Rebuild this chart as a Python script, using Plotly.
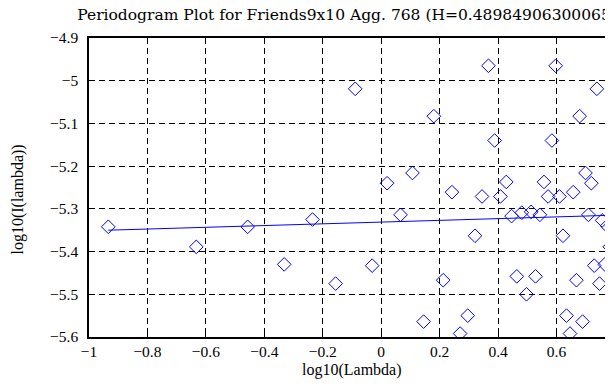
import plotly.graph_objects as go

# Periodogram points: log10(lambda) and log10(I(lambda))
log_lambda = [
    -0.934, -0.633, -0.457, -0.332, -0.235, -0.156, -0.089, -0.031, 0.020, 0.066,
    0.107, 0.145, 0.180, 0.212, 0.242, 0.270, 0.296, 0.321, 0.345, 0.367,
    0.388, 0.408, 0.428, 0.446, 0.464, 0.481, 0.497, 0.513, 0.528, 0.543,
    0.557, 0.571, 0.584, 0.597, 0.610, 0.622, 0.634, 0.646, 0.657, 0.668,
    0.679, 0.689, 0.699, 0.709, 0.719, 0.729, 0.738, 0.747, 0.756, 0.765,
    0.773, 0.782, 0.790,
]
log_I = [
    -5.342, -5.389, -5.342, -5.430, -5.325, -5.475, -5.019, -5.433, -5.240, -5.314,
    -5.216, -5.564, -5.083, -5.467, -5.261, -5.592, -5.550, -5.363, -5.271, -4.965,
    -5.140, -5.271, -5.237, -5.317, -5.458, -5.309, -5.500, -5.307, -5.458, -5.314,
    -5.237, -5.271, -5.140, -4.965, -5.271, -5.363, -5.550, -5.592, -5.261, -5.467,
    -5.083, -5.564, -5.216, -5.314, -5.240, -5.433, -5.019, -5.475, -5.327, -5.430,
    -5.340, -5.389, -5.342,
]

H = 0.489849063000657
fit_slope = 1 - 2 * H
fit_intercept = -5.331

x_tickvals = [-1, -0.8, -0.6, -0.4, -0.2, 0, 0.2, 0.4, 0.6, 0.8]
x_ticktext = ["\u22121", "\u22120.8", "\u22120.6", "\u22120.4", "\u22120.2", "0", "0.2", "0.4", "0.6", "0.8"]
y_tickvals = [-4.9, -5.0, -5.1, -5.2, -5.3, -5.4, -5.5, -5.6]
y_ticktext = ["\u22124.9", "\u22125", "\u22125.1", "\u22125.2", "\u22125.3", "\u22125.4", "\u22125.5", "\u22125.6"]

title_text = "Periodogram Plot for Friends9x10 Agg. 768 (H=0.489849063000657)"

fit_x = [min(log_lambda), max(log_lambda)]
fit_y = [fit_intercept + fit_slope * v for v in fit_x]

font_family = "Liberation Serif, Times New Roman, serif"
title_family = "DejaVu Serif, Liberation Serif, serif"

fig = go.Figure()
fig.add_trace(go.Scatter(
    x=log_lambda, y=log_I, mode="markers",
    marker=dict(symbol="diamond-open", size=10.5, color="#0000ff", line=dict(width=1, color="#0000ff")),
    showlegend=False,
))
fig.add_trace(go.Scatter(
    x=fit_x, y=fit_y, mode="lines",
    line=dict(color="#0000ff", width=1),
    showlegend=False,
))

axis_common = dict(
    showline=True, linecolor="black", linewidth=1.5, mirror="ticks",
    ticks="inside", ticklen=6, tickcolor="black", tickwidth=1,
    showgrid=True, gridcolor="black", gridwidth=1, griddash="6px,4px",
    zeroline=False, automargin=False,
    tickfont=dict(family=font_family, size=15.5, color="black"),
)

fig.update_layout(
    width=613, height=385,
    margin=dict(l=81, r=6, t=30, b=55.5),
    paper_bgcolor="white", plot_bgcolor="white",
    font=dict(family=font_family, size=16, color="black"),
    title=dict(text=title_text, x=0.5, xref="paper", xanchor="center",
               y=1 - 7 / 385, yref="container", yanchor="middle",
               font=dict(family=title_family, size=15.5, color="black")),
    xaxis=dict(range=[-1, 0.8], tickvals=x_tickvals, ticktext=x_ticktext,
               ticklabelstandoff=0, **axis_common),
    yaxis=dict(range=[-5.6, -4.9], tickvals=y_tickvals, ticktext=y_ticktext,
               ticklabelstandoff=6, **axis_common),
    annotations=[
        dict(text="log10(Lambda)", xref="paper", yref="paper", x=0.5, y=0,
             yshift=-33, xanchor="center", yanchor="middle", showarrow=False,
             font=dict(family=font_family, size=16, color="black")),
        dict(text="log10(I(lambda))", xref="paper", yref="paper", x=0, y=0.5,
             xshift=-72, yshift=-12, textangle=-90, xanchor="center", yanchor="middle",
             showarrow=False, font=dict(family=font_family, size=16, color="black")),
    ],
)

fig.write_html("out.html")
